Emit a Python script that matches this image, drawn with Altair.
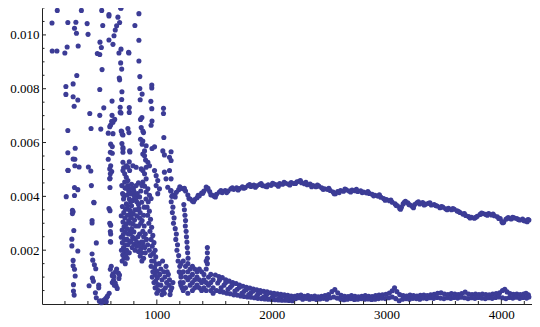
import altair as alt
import pandas as pd

# ---- data (x, y) ----
early_pts = [
    (133, 0.01091), (315, 0.0111), (343, 0.01091), (87, 0.01044), (225, 0.01046), (295, 0.01047),
    (393, 0.01042), (283, 0.01025), (300, 0.01006), (401, 0.01002), (89, 0.0094), (130, 0.0094),
    (199, 0.00933), (219, 0.00955), (315, 0.00959),
    (520, 0.01091), (583, 0.01076), (583, 0.0107), (661, 0.01066), (685, 0.011), (757, 0.01117),
    (676, 0.01046), (529, 0.01035), (650, 0.01034), (638, 0.01018), (627, 0.00997), (583, 0.00981),
    (618, 0.00965), (505, 0.00973), (517, 0.00953), (688, 0.00947), (482, 0.00931), (503, 0.00927),
    (670, 0.00933), (754, 0.00935), (685, 0.00896), (694, 0.00873), (523, 0.00871), (303, 0.00849),
    (673, 0.0084), (676, 0.00833), (208, 0.00808), (271, 0.00818), (503, 0.00797), (696, 0.00789),
    (208, 0.00779), (271, 0.0077), (312, 0.00758), (610, 0.00754), (694, 0.0076), (280, 0.00735),
    (538, 0.00729), (681, 0.00731), (760, 0.0073),
    (835, 0.01121), (688, 0.01099), (844, 0.01079), (809, 0.01035), (844, 0.0098), (757, 0.00933),
    (844, 0.00903), (852, 0.00845), (956, 0.00814), (956, 0.00803), (852, 0.00801), (872, 0.0078),
    (855, 0.00759), (948, 0.00753), (956, 0.00726), (1058, 0.00727),
    (760, 0.00712), (681, 0.00712), (416, 0.00708), (503, 0.00701), (610, 0.00701), (607, 0.00679),
    (598, 0.00665), (590, 0.00659), (427, 0.00652), (225, 0.00645), (512, 0.0065), (577, 0.00635),
    (618, 0.00633), (694, 0.00641), (705, 0.00628), (598, 0.00594), (612, 0.00585), (696, 0.00596),
    (705, 0.00581), (766, 0.00565), (289, 0.00579), (225, 0.00562), (286, 0.00538), (577, 0.00538),
    (612, 0.0056), (760, 0.00528), (286, 0.00514), (323, 0.00509), (404, 0.00509), (425, 0.00494),
    (225, 0.00497), (598, 0.00514), (607, 0.00492), (592, 0.00467), (711, 0.00506), (430, 0.0044),
    (283, 0.00433), (312, 0.00425), (592, 0.00433), (211, 0.00399), (283, 0.00403), (451, 0.00378),
    (714, 0.00401),
    (453, 0.00376), (271, 0.00343), (592, 0.00347), (436, 0.0031), (436, 0.00301), (277, 0.00273),
    (598, 0.00293), (598, 0.0026), (260, 0.00241), (260, 0.00216), (312, 0.00197), (473, 0.00227),
    (598, 0.0023), (436, 0.00186), (442, 0.00163), (456, 0.00146), (468, 0.00131), (271, 0.00162),
    (271, 0.00142), (283, 0.00129), (289, 0.00104), (274, 0.00072), (274, 0.00048), (280, 0.00033),
    (439, 0.00096), (447, 0.00085), (410, 0.00068), (494, 0.0007), (494, 0.0006), (465, 0.00042),
    (473, 0.00023),
    (500, 0.0001), (517, 0.00005), (530, 0.00008), (545, 0.00012), (555, 0.0002), (565, 0.00025),
    (540, 0.00015), (510, 0.00012), (560, 0.00008),
    (595, 0.00129), (618, 0.00112), (627, 0.00102), (623, 0.00088), (612, 0.0008), (638, 0.00078),
    (645, 0.00068), (655, 0.00058), (670, 0.00095), (665, 0.00115), (675, 0.00108), (640, 0.0012),
    (650, 0.0013), (630, 0.0007), (603, 0.0014), (612, 0.00105), (585, 0.0004), (570, 0.0003),
    (228, 0.00496), (271, 0.00539), (265, 0.00348), (265, 0.00336), (583, 0.00355), (590, 0.003),
    (595, 0.00269), (595, 0.00232),
]

tangle_pts = [
    (688, 0.0071), (1058, 0.00708), (870, 0.00693), (858, 0.00686), (958, 0.0068), (950, 0.00664),
    (633, 0.00686), (618, 0.00675), (690, 0.00643), (699, 0.00631), (748, 0.00652), (757, 0.00637),
    (864, 0.00656), (878, 0.00643), (884, 0.00637), (858, 0.00612), (878, 0.00606), (872, 0.00594),
    (907, 0.00588), (893, 0.00569), (980, 0.00584), (958, 0.00578), (1061, 0.00619), (705, 0.00576),
    (705, 0.00564), (763, 0.00569), (595, 0.00564), (878, 0.00557), (893, 0.00551), (902, 0.00535),
    (922, 0.00527), (936, 0.00514), (907, 0.00508), (1052, 0.00569), (1066, 0.00554), (1124, 0.00566),
    (1110, 0.00545), (1124, 0.00533), (705, 0.00527), (734, 0.00514), (748, 0.00508), (763, 0.00496),
    (792, 0.00514), (820, 0.00508), (590, 0.00502), (595, 0.00484), (590, 0.00465), (705, 0.00496),
    (720, 0.00484), (734, 0.00471), (748, 0.00459), (720, 0.00453), (748, 0.0044), (763, 0.00428),
    (777, 0.0041), (806, 0.00404), (820, 0.00398), (864, 0.00502), (878, 0.00496), (893, 0.00484),
    (907, 0.00465), (878, 0.00453), (893, 0.00438), (922, 0.00428), (907, 0.00416), (936, 0.00404),
    (950, 0.00392), (980, 0.00496), (994, 0.00477), (1008, 0.00459), (994, 0.0044), (1023, 0.00428),
    (1008, 0.0041), (1066, 0.0049), (1080, 0.00465), (1110, 0.00496), (1124, 0.00465), (1095, 0.00434),
    (1124, 0.00422), (1139, 0.00404),
    # dense column near 700
    (695, 0.0044), (722, 0.00432), (702, 0.0041), (740, 0.00405), (710, 0.0039), (735, 0.00372),
    (700, 0.00362), (728, 0.00352), (712, 0.0034), (690, 0.00328), (722, 0.0032), (705, 0.00305),
    (735, 0.00298), (715, 0.00288), (698, 0.00275), (725, 0.00268), (708, 0.00258), (690, 0.00248),
    (718, 0.0024), (700, 0.00228), (728, 0.0022), (710, 0.0021), (692, 0.002), (720, 0.00192),
    (703, 0.00182), (715, 0.0017), (698, 0.0016),
    (730, 0.0043), (755, 0.0042), (760, 0.0039), (745, 0.00365), (760, 0.0035), (745, 0.0033),
    (755, 0.0031), (740, 0.0028), (752, 0.0026), (740, 0.0024), (748, 0.0022), (738, 0.002),
    (730, 0.0018), (742, 0.0017), (725, 0.0015), (760, 0.0019), (765, 0.0023), (768, 0.0027),
    (770, 0.003), (765, 0.0033), (772, 0.0038),
    # strands 760-900
    (780, 0.00445), (840, 0.0045), (870, 0.0044), (795, 0.0043), (860, 0.0042), (775, 0.0041),
    (805, 0.004), (850, 0.00398), (790, 0.00385), (825, 0.0038), (868, 0.00378), (780, 0.00365),
    (810, 0.0035), (845, 0.00355), (770, 0.00345), (795, 0.00335), (825, 0.00328), (778, 0.0032),
    (806, 0.00312), (790, 0.00298), (815, 0.0029), (780, 0.0028), (800, 0.00268), (770, 0.0026),
    (790, 0.00248), (812, 0.00242), (775, 0.00235), (800, 0.00222), (825, 0.00215), (785, 0.0021),
    (810, 0.002), (840, 0.00195), (860, 0.00205), (880, 0.00215), (870, 0.0019), (855, 0.00178),
    (885, 0.0025), (878, 0.0027), (890, 0.0029), (872, 0.0031), (885, 0.0033), (890, 0.0036),
    (785, 0.0043), (820, 0.0044), (800, 0.0042), (830, 0.0041), (815, 0.0039), (840, 0.0037),
    (830, 0.0035), (855, 0.0034), (850, 0.0032), (860, 0.003), (840, 0.0029), (850, 0.0026),
    (835, 0.0025), (825, 0.0023), (845, 0.0022), (865, 0.0023), (880, 0.0023), (895, 0.0021),
    (900, 0.0019), (885, 0.0017), (870, 0.0016),
    # strands 900-1015
    (905, 0.0039), (925, 0.0038), (915, 0.0036), (935, 0.00345), (920, 0.0033), (945, 0.00315),
    (930, 0.003), (955, 0.00285), (940, 0.0027), (965, 0.00255), (950, 0.0024), (975, 0.00228),
    (960, 0.00215), (985, 0.002), (970, 0.00188), (990, 0.00175), (975, 0.0016), (995, 0.00148),
    (980, 0.00135), (1000, 0.00122), (985, 0.0011), (1005, 0.00098), (990, 0.00085), (1010, 0.00072),
    (995, 0.0006), (1015, 0.0005), (1000, 0.0004),
    (900, 0.0026), (910, 0.0024), (920, 0.0022), (935, 0.002), (945, 0.0018),
    (955, 0.0016), (950, 0.0014), (965, 0.0012), (960, 0.001), (975, 0.0008), (985, 0.0006),
    # lobe 1020-1140
    (1020, 0.0015), (1035, 0.0013), (1025, 0.0011), (1045, 0.0009), (1035, 0.0007), (1055, 0.0005),
    (1045, 0.00035), (1065, 0.0004), (1075, 0.0006), (1085, 0.0008), (1070, 0.001), (1090, 0.0012),
    (1080, 0.0014), (1100, 0.0011), (1110, 0.0009), (1105, 0.0007), (1120, 0.0005), (1115, 0.00035),
    (1130, 0.0006), (1140, 0.0008), (1060, 0.0012), (1050, 0.0016),
    # strand down from the upper curve
    (1120, 0.0042), (1130, 0.004), (1125, 0.0038), (1140, 0.0036), (1135, 0.0034), (1150, 0.0032),
    (1145, 0.003), (1160, 0.0028), (1170, 0.0026), (1165, 0.0024), (1180, 0.0022), (1175, 0.002),
    (1190, 0.0018), (1185, 0.0016), (1200, 0.0014), (1195, 0.0012), (1210, 0.001), (1205, 0.0008),
    (1220, 0.0006),
    (1235, 0.0037), (1240, 0.0035), (1245, 0.0033), (1250, 0.0031), (1248, 0.0029), (1255, 0.0027),
    (1258, 0.0025), (1262, 0.0023), (1265, 0.0021), (1268, 0.0019), (1272, 0.0017),
]

upper_band = [
    (1150, 0.00405), (1170, 0.00415), (1190, 0.00425), (1210, 0.0043), (1230, 0.00428), (1250, 0.0042),
    (1270, 0.00405), (1290, 0.0039), (1310, 0.00383), (1330, 0.00388), (1350, 0.00395), (1370, 0.00402),
    (1390, 0.00412), (1410, 0.0042), (1430, 0.00435), (1445, 0.0043), (1460, 0.00418), (1480, 0.00405),
    (1500, 0.004), (1520, 0.00408), (1545, 0.00416), (1570, 0.00414), (1595, 0.00422), (1620, 0.0042),
    (1645, 0.00428), (1670, 0.00426), (1695, 0.00432), (1720, 0.00429), (1745, 0.00436), (1770, 0.00433),
    (1795, 0.0044), (1820, 0.00437), (1845, 0.00442), (1870, 0.00439), (1895, 0.00444), (1920, 0.0044),
    (1945, 0.00438), (1970, 0.00443), (1995, 0.00441), (2020, 0.00446), (2045, 0.00443), (2070, 0.00448),
    (2095, 0.00445), (2120, 0.00449), (2145, 0.00446), (2170, 0.00451), (2195, 0.00448), (2220, 0.00454),
    (2240, 0.00456), (2260, 0.00451), (2285, 0.00447), (2310, 0.00443), (2335, 0.00446), (2360, 0.0044),
    (2385, 0.00436), (2410, 0.00438), (2435, 0.00432), (2460, 0.00428), (2485, 0.00426), (2510, 0.00422),
    (2535, 0.00416), (2555, 0.0041), (2575, 0.00418), (2600, 0.00422), (2625, 0.00419), (2650, 0.00424),
    (2675, 0.0042), (2700, 0.00423), (2725, 0.00421), (2750, 0.00418), (2775, 0.00421), (2800, 0.00416),
    (2825, 0.00413), (2850, 0.00411), (2875, 0.00408), (2900, 0.00404), (2925, 0.00401), (2950, 0.00397),
    (2975, 0.00392), (3000, 0.00388), (3025, 0.00384), (3050, 0.00378), (3075, 0.00372), (3095, 0.00365),
    (3115, 0.00355), (3130, 0.0036), (3145, 0.00372), (3165, 0.00382), (3185, 0.00376), (3205, 0.00368),
    (3225, 0.00362), (3245, 0.0037), (3265, 0.00376), (3290, 0.00372), (3315, 0.00377), (3340, 0.00371),
    (3365, 0.00374), (3390, 0.00368), (3415, 0.0037), (3440, 0.00364), (3465, 0.00358), (3490, 0.0036),
    (3515, 0.00354), (3540, 0.00356), (3565, 0.0035), (3590, 0.00352), (3615, 0.00346), (3640, 0.0034),
    (3665, 0.00334), (3690, 0.00329), (3715, 0.00325), (3740, 0.00322), (3765, 0.00319), (3790, 0.00326),
    (3815, 0.00333), (3840, 0.00336), (3865, 0.00333), (3890, 0.00336), (3915, 0.00331), (3940, 0.00328),
    (3965, 0.00324), (3990, 0.00318), (4005, 0.00306), (4020, 0.00304), (4040, 0.00315), (4060, 0.00321),
    (4085, 0.00316), (4110, 0.0032), (4135, 0.00318), (4160, 0.00312), (4185, 0.00316), (4205, 0.00309),
    (4225, 0.00306), (4240, 0.00312),
    (1160, 0.00398), (1200, 0.00436), (1240, 0.0043), (1280, 0.00392), (1320, 0.0038), (1360, 0.00404),
    (1400, 0.00412), (1438, 0.00428), (1470, 0.00406), (1510, 0.00398), (1558, 0.00422), (1608, 0.00414),
    (1658, 0.00432), (1708, 0.00424), (1758, 0.0043), (1808, 0.00444), (1858, 0.00434), (1908, 0.00448),
    (1958, 0.00436), (2008, 0.00449), (2058, 0.00438), (2108, 0.00452), (2158, 0.00442), (2208, 0.00448),
    (2250, 0.00459), (2298, 0.00452), (2348, 0.00436), (2398, 0.00442), (2448, 0.00426), (2498, 0.0043),
    (2545, 0.0041), (2588, 0.00414), (2638, 0.00427), (2688, 0.00416), (2738, 0.00426), (2788, 0.00414),
    (2838, 0.00418), (2888, 0.00402), (2938, 0.00406), (2988, 0.00386), (3038, 0.00386), (3085, 0.00366),
    (3122, 0.00352), (3155, 0.00378), (3195, 0.0037), (3235, 0.00358), (3278, 0.0038), (3328, 0.00368),
    (3378, 0.00376), (3428, 0.00366), (3478, 0.00362), (3528, 0.0035), (3578, 0.00355), (3628, 0.00344),
    (3678, 0.00336), (3728, 0.0032), (3778, 0.00322), (3828, 0.00338), (3878, 0.0033), (3928, 0.00334),
    (3978, 0.00318), (4012, 0.00302), (4050, 0.00318), (4098, 0.00322), (4148, 0.00314), (4195, 0.0031),
    (4232, 0.00314),
]

lower_start = [
    (1210, 0.0015), (1210, 0.0011), (1210, 0.0007), (1230, 0.0016), (1230, 0.0012), (1230, 0.0008),
    (1230, 0.0005), (1250, 0.0014), (1250, 0.001), (1250, 0.0006), (1270, 0.0015), (1270, 0.0012),
    (1270, 0.0009), (1270, 0.0004), (1290, 0.0013), (1290, 0.001), (1290, 0.0007), (1310, 0.0014),
    (1310, 0.0011), (1310, 0.0008), (1310, 0.0005), (1330, 0.0013), (1330, 0.0009), (1330, 0.0006),
    (1350, 0.0012), (1350, 0.001), (1350, 0.0007), (1370, 0.0013), (1370, 0.0009), (1370, 0.0006),
    (1390, 0.0012), (1390, 0.0008), (1390, 0.0005), (1410, 0.0011), (1410, 0.0009), (1410, 0.0006),
    (1430, 0.0016), (1430, 0.0013), (1430, 0.0008), (1430, 0.0005), (1440, 0.0021), (1440, 0.0019),
    (1440, 0.0017), (1440, 0.0015), (1450, 0.001), (1450, 0.0007), (1470, 0.0011), (1470, 0.0008),
    (1470, 0.0005), (1490, 0.0009), (1490, 0.0006), (1490, 0.0004),
    (1510, 0.00108), (1540, 0.00102), (1570, 0.00098), (1600, 0.0009), (1630, 0.00085), (1660, 0.0008),
    (1690, 0.00076), (1720, 0.0007), (1750, 0.00066), (1780, 0.00062), (1810, 0.00059), (1840, 0.00056),
    (1870, 0.00053), (1900, 0.0005), (1930, 0.00047), (1960, 0.00045), (1990, 0.00042), (2020, 0.0004),
    (2050, 0.00038), (2080, 0.00036), (2110, 0.00034), (2140, 0.00032), (2170, 0.0003), (2200, 0.00029),
    (1520, 0.0005), (1550, 0.00046), (1580, 0.00044), (1610, 0.0004), (1640, 0.00038), (1670, 0.00034),
    (1700, 0.00033), (1730, 0.0003), (1760, 0.00028), (1790, 0.00026), (1820, 0.00025), (1850, 0.00023),
    (1880, 0.00021), (1910, 0.0002), (1940, 0.00019), (1970, 0.00018), (2000, 0.00017), (2030, 0.00016),
    (2060, 0.00015), (2090, 0.00014), (2120, 0.00014), (2150, 0.00013), (2180, 0.00012),
    (1530, 0.00078), (1585, 0.0007), (1640, 0.00062), (1700, 0.00055), (1760, 0.00047), (1820, 0.00042),
    (1880, 0.00037), (1950, 0.00032), (2010, 0.00028), (2070, 0.00025),
    (1545, 0.00088), (1600, 0.0008), (1655, 0.0007), (1720, 0.00062), (1780, 0.00054), (1840, 0.00048),
    (1900, 0.00042), (1960, 0.00038), (2030, 0.00034), (2100, 0.0003), (2160, 0.00026), (1560, 0.0006),
    (1620, 0.00055), (1680, 0.00048), (1740, 0.0004), (1800, 0.00035), (1870, 0.0003), (1930, 0.00026),
    (2000, 0.00022), (2060, 0.0002), (2130, 0.00019), (2190, 0.0002),
]

lower_band = [
    (2225, 0.00031), (2255, 0.00033), (2285, 0.00029), (2315, 0.00031), (2345, 0.00028), (2375, 0.0003),
    (2405, 0.00027), (2435, 0.00029), (2465, 0.00031), (2495, 0.00035), (2525, 0.00046), (2550, 0.00054),
    (2575, 0.00042), (2605, 0.00032), (2635, 0.00029), (2665, 0.00028), (2695, 0.00031), (2725, 0.00029),
    (2755, 0.00027), (2785, 0.00029), (2815, 0.00031), (2845, 0.00029), (2875, 0.00028), (2905, 0.00031),
    (2935, 0.00033), (2965, 0.00034), (2995, 0.00036), (3025, 0.00041), (3050, 0.00049), (3070, 0.0006),
    (3090, 0.00046), (3115, 0.00035), (3145, 0.00031), (3175, 0.0003), (3205, 0.00033), (3235, 0.00031),
    (3265, 0.0003), (3295, 0.00032), (3325, 0.00033), (3355, 0.00031), (3385, 0.00034), (3415, 0.00036),
    (3445, 0.0004), (3475, 0.00042), (3505, 0.00037), (3535, 0.00035), (3565, 0.00039), (3595, 0.00037),
    (3625, 0.00035), (3655, 0.00039), (3685, 0.00044), (3715, 0.00037), (3745, 0.00035), (3775, 0.00037),
    (3805, 0.00035), (3835, 0.00037), (3865, 0.00035), (3895, 0.00034), (3925, 0.00037), (3955, 0.00039),
    (3985, 0.00042), (4010, 0.0005), (4030, 0.00055), (4050, 0.00045), (4075, 0.00039), (4105, 0.00036),
    (4135, 0.00037), (4165, 0.00035), (4195, 0.00037), (4215, 0.0004), (4235, 0.00034),
    (2210, 0.0002), (2240, 0.00023), (2270, 0.00018), (2300, 0.00021), (2330, 0.00018), (2360, 0.0002),
    (2390, 0.00017), (2420, 0.00019), (2450, 0.00021), (2480, 0.00018), (2510, 0.00023), (2540, 0.00026),
    (2570, 0.00022), (2600, 0.00018), (2630, 0.00016), (2660, 0.00018), (2690, 0.0002), (2720, 0.00017),
    (2750, 0.00018), (2780, 0.0002), (2810, 0.00018), (2840, 0.00019), (2870, 0.00017), (2900, 0.00018),
    (2930, 0.0002), (2960, 0.00022), (2990, 0.0002), (3020, 0.00023), (3050, 0.00026), (3080, 0.0002),
    (3110, 0.00012), (3140, 0.00018), (3170, 0.0002), (3200, 0.00018), (3230, 0.00021), (3260, 0.0002),
    (3290, 0.00018), (3320, 0.00022), (3350, 0.0002), (3380, 0.00023), (3410, 0.00021), (3440, 0.00024),
    (3470, 0.00022), (3500, 0.0002), (3530, 0.00023), (3560, 0.00021), (3590, 0.00024), (3620, 0.00022),
    (3650, 0.00025), (3680, 0.00023), (3710, 0.0002), (3740, 0.00023), (3770, 0.00021), (3800, 0.00024),
    (3830, 0.00022), (3860, 0.0002), (3890, 0.00023), (3920, 0.00021), (3950, 0.00024), (3980, 0.00026),
    (4010, 0.00023), (4040, 0.0002), (4070, 0.00024), (4100, 0.00022), (4130, 0.00025), (4160, 0.00021),
    (4190, 0.00024), (4220, 0.00022), (4240, 0.00026),
]

x_major = [1000, 2000, 3000, 4000]
x_minor = [200, 400, 600, 800, 1200, 1400, 1600, 1800, 2200, 2400, 2600, 2800,
           3200, 3400, 3600, 3800, 4200]
y_major = [0.002, 0.004, 0.006, 0.008, 0.010]
y_minor = [0.0005, 0.001, 0.0015, 0.0025, 0.003, 0.0035, 0.0045, 0.005, 0.0055,
           0.0065, 0.007, 0.0075, 0.0085, 0.009, 0.0095, 0.0105, 0.011]

X_DOMAIN = [0, 4267]
Y_DOMAIN = [0, 0.011]
W, H = 490, 296
COLOR = "#3c3c96"
AXIS_COLOR = "#222222"
FONT = "Liberation Serif"
FS = 13

all_pts = early_pts + tangle_pts + upper_band + lower_start + lower_band
df = pd.DataFrame(all_pts, columns=["x", "y"])

xs = alt.Scale(domain=X_DOMAIN, nice=False, zero=False)
ys = alt.Scale(domain=Y_DOMAIN, nice=False, zero=False)

ax_x = alt.Axis(values=x_major, format="d", ticks=False, grid=False, title=None,
                labelFont=FONT, labelFontSize=FS, labelColor="#000", labelPadding=4,
                domainColor=AXIS_COLOR, domainWidth=1)
ax_y = alt.Axis(values=y_major, format=".3f", ticks=False, grid=False, title=None,
                labelFont=FONT, labelFontSize=FS, labelColor="#000", labelPadding=3,
                domainColor=AXIS_COLOR, domainWidth=1)

points = alt.Chart(df).mark_circle(size=26, color=COLOR, opacity=1).encode(
    x=alt.X("x:Q", scale=xs, axis=ax_x, title=None),
    y=alt.Y("y:Q", scale=ys, axis=ax_y, title=None),
)

ymaj = alt.Chart(pd.DataFrame({"y": y_major})).mark_rule(color=AXIS_COLOR, strokeWidth=1).encode(
    y=alt.Y("y:Q", scale=ys, axis=ax_y, title=None), x=alt.value(0), x2=alt.value(4))
ymin = alt.Chart(pd.DataFrame({"y": y_minor})).mark_rule(color=AXIS_COLOR, strokeWidth=1).encode(
    y=alt.Y("y:Q", scale=ys, axis=ax_y, title=None), x=alt.value(0), x2=alt.value(2.5))
xmaj = alt.Chart(pd.DataFrame({"x": x_major})).mark_rule(color=AXIS_COLOR, strokeWidth=1).encode(
    x=alt.X("x:Q", scale=xs, axis=ax_x, title=None), y=alt.value(H), y2=alt.value(H - 4.5))
xmin = alt.Chart(pd.DataFrame({"x": x_minor})).mark_rule(color=AXIS_COLOR, strokeWidth=1).encode(
    x=alt.X("x:Q", scale=xs, axis=ax_x, title=None), y=alt.value(H), y2=alt.value(H - 3))

chart = alt.layer(points, ymaj, ymin, xmaj, xmin).properties(
    width=W, height=H,
    autosize=alt.AutoSizeParams(type="none"),
    padding={"left": 34, "top": 0, "right": 0, "bottom": 22},
    background="white",
).configure_view(strokeWidth=0)

chart.save("out.html", embed_options={"renderer": "svg", "actions": False})
